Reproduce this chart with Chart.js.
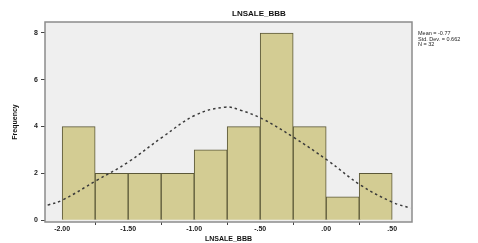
<!DOCTYPE html>
<html>
<head>
<meta charset="utf-8">
<script src="https://cdn.jsdelivr.net/npm/chart.js@4/dist/chart.umd.min.js"></script>
<style>
  html, body { margin: 0; padding: 0; background: #fff; }
  #wrap { position: relative; width: 478px; height: 243px; font-family: "Liberation Sans", Arial, sans-serif; }
  #title { position: absolute; left: 232px; top: 9px; font-size: 8px; font-weight: bold; color: #111; }
  #stats { position: absolute; left: 418px; top: 31px; font-size: 5.5px; line-height: 5.5px; color: #222; white-space: nowrap; }
</style>
</head>
<body>
<div id="wrap">
  <canvas id="chart" width="478" height="243"></canvas>
  <div id="title">LNSALE_BBB</div>
  <div id="stats">Mean = -0.77<br>Std. Dev. = 0.662<br>N = 32</div>
</div>
<script>
// histogram bins (midpoints) and frequencies
const binMids = [-1.875, -1.625, -1.375, -1.125, -0.875, -0.625, -0.375, -0.125, 0.125, 0.375];
const counts = [4, 2, 2, 2, 3, 4, 8, 4, 1, 2];

// normal curve
const curveX = [-2.11, -2.0, -1.735, -1.5, -1.24, -0.99, -0.765, -0.65, -0.48, -0.25, 0.01, 0.26, 0.5, 0.64];
const curveY = [0.64, 0.85, 1.71, 2.48, 3.55, 4.49, 4.83, 4.7, 4.32, 3.55, 2.56, 1.5, 0.77, 0.51];

const xTicks = [-2, -1.5, -1, -0.5, 0, 0.5];
const xTickLabels = ['-2.00', '-1.50', '-1.00', '-.50', '.00', '.50'];
const yTicks = [0, 2, 4, 6, 8];

// plot background + frame
const frame = {
  id: 'frame',
  beforeDraw(chart) {
    const { ctx, chartArea: a } = chart;
    ctx.save();
    ctx.fillStyle = '#efefef';
    ctx.fillRect(a.left, a.top, a.width, a.height);
    ctx.restore();
  },
  afterDraw(chart) {
    const { ctx, chartArea: a } = chart;
    ctx.save();
    ctx.strokeStyle = '#8c8c8c';
    ctx.lineWidth = 1.5;
    ctx.strokeRect(a.left, a.top, a.width, a.height);
    ctx.restore();
  },
};

const font = { family: '"Liberation Sans", Arial, sans-serif', size: 7, weight: 'bold' };

new Chart(document.getElementById('chart'), {
  type: 'bar',
  data: {
    datasets: [
      {
        type: 'line',
        data: curveX.map((x, i) => ({ x: x, y: curveY[i] })),
        borderColor: '#3a3a3a',
        borderWidth: 1.5,
        borderDash: [2.5, 3],
        pointRadius: 0,
        tension: 0.4,
        fill: false,
      },
      {
        type: 'bar',
        data: binMids.map((x, i) => ({ x: x, y: counts[i] })),
        backgroundColor: '#d3cc93',
        borderColor: '#5b5838',
        borderWidth: 1,
        barPercentage: 1,
        categoryPercentage: 1,
      },
    ],
  },
  options: {
    responsive: false,
    animation: false,
    layout: { padding: { top: 22, right: 66, left: 9, bottom: 0 } },
    plugins: { legend: { display: false }, tooltip: { enabled: false } },
    scales: {
      x: {
        type: 'linear',
        min: -2.13,
        max: 0.65,
        offset: false,
        afterBuildTicks: (s) => { s.ticks = xTicks.map((v) => ({ value: v })); },
        afterFit: (s) => { s.height = 21; },
        ticks: {
          font: font,
          color: '#222',
          padding: 0,
          maxRotation: 0,
          callback: (v) => xTickLabels[xTicks.indexOf(v)],
        },
        grid: { drawOnChartArea: false, drawTicks: true, tickLength: 3, color: '#444' },
        border: { display: false },
        title: { display: true, text: 'LNSALE_BBB', font: font, color: '#111', padding: 0 },
      },
      y: {
        min: -0.08,
        max: 8.47,
        afterBuildTicks: (s) => { s.ticks = yTicks.map((v) => ({ value: v })); },
        afterFit: (s) => { s.width = 36; },
        ticks: { font: font, color: '#222', padding: 3 },
        grid: { drawOnChartArea: false, drawTicks: true, tickLength: 4, color: '#444' },
        border: { display: false },
        title: { display: true, text: 'Frequency', font: font, color: '#111', padding: 2 },
      },
    },
  },
  plugins: [frame],
});
</script>
</body>
</html>
